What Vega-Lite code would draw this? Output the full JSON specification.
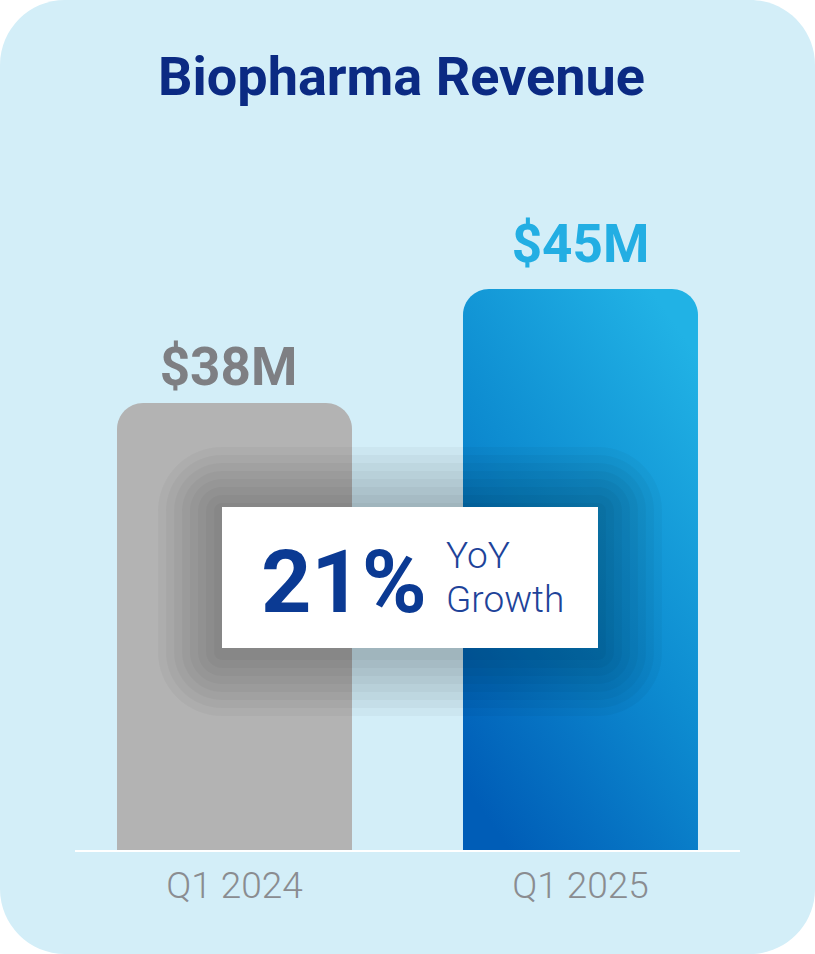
{
  "$schema": "https://vega.github.io/schema/vega-lite/v6.json",
  "width": 815,
  "height": 954,
  "autosize": {"type": "fit", "contains": "padding"},
  "padding": 0,
  "background": "#ffffff",
  "config": {
    "font": "Roboto",
    "view": {"fill": "#d3eef8", "stroke": null, "cornerRadius": 65},
    "axis": {"title": null, "domain": false, "ticks": false, "grid": false},
    "axisY": {"disable": true},
    "axisX": {"labelAngle": 0, "offset": -103, "labelFontSize": 37, "labelFontWeight": 300, "labelColor": "#8a8c90", "labelPadding": 17}
  },
  "title": {"text": "Biopharma Revenue", "fontSize": 54, "fontWeight": 700, "color": "#0b2a83", "offset": -106, "dx": -6, "anchor": "middle", "frame": "group"},
  "datasets": {
    "revenue": [
      {"period": "Q1 2024", "revenue": 38, "label": "$38M"},
      {"period": "Q1 2025", "revenue": 45, "label": "$45M"}
    ],
    "one": [{}]
  },
  "data": {"name": "revenue"},
  "layer": [
    {
      "mark": {"type": "bar", "cornerRadiusTopLeft": 26, "cornerRadiusTopRight": 26},
      "encoding": {
        "x": {"field": "period", "type": "nominal", "sort": null, "scale": {"paddingInner": 0.3208, "paddingOuter": 0.3382}},
        "y": {"field": "revenue", "type": "quantitative", "scale": {"domain": [4.166, 62.746], "zero": false, "nice": false}},
        "y2": {"datum": 10.492},
        "color": {
          "condition": {"test": "datum.period === 'Q1 2025'", "value": {"gradient": "linear", "x1": 0.2, "y1": 1, "x2": 0.8, "y2": 0, "stops": [{"offset": 0, "color": "#005db7"}, {"offset": 0.5, "color": "#0d8bd0"}, {"offset": 1, "color": "#21b2e5"}]}},
          "value": "#b3b3b3"
        }
      }
    },
    {
      "transform": [{"filter": "datum.period === 'Q1 2024'"}],
      "mark": {"type": "text", "fontSize": 53, "fontWeight": 700, "color": "#7e7f83", "dy": -18, "dx": -6, "baseline": "alphabetic"},
      "encoding": {
        "x": {"field": "period", "type": "nominal"},
        "y": {"field": "revenue", "type": "quantitative"},
        "text": {"field": "label"}
      }
    },
    {
      "transform": [{"filter": "datum.period === 'Q1 2025'"}],
      "mark": {"type": "text", "fontSize": 53, "fontWeight": 700, "color": "#23aee3", "dy": -27, "baseline": "alphabetic"},
      "encoding": {
        "x": {"field": "period", "type": "nominal"},
        "y": {"field": "revenue", "type": "quantitative"},
        "text": {"field": "label"}
      }
    },
    {
      "data": {"name": "one"},
      "mark": {"type": "rule", "color": "#ffffff", "strokeWidth": 2},
      "encoding": {
        "x": {"datum": "Q1 2024", "bandPosition": -0.1787},
        "x2": {"datum": "Q1 2025", "bandPosition": 1.1787},
        "y": {"datum": 10.492}
      }
    },
    {"data": {"name": "one"}, "mark": {"type": "rect", "fill": "#000000", "fillOpacity": 0.03, "stroke": null, "cornerRadius": 64},
     "encoding": {"x": {"datum": "Q1 2024", "bandPosition": 0.1745}, "x2": {"datum": "Q1 2025", "bandPosition": 0.8468}, "y": {"datum": 35.299}, "y2": {"datum": 18.781}}},
    {"data": {"name": "one"}, "mark": {"type": "rect", "fill": "#000000", "fillOpacity": 0.03, "stroke": null, "cornerRadius": 56},
     "encoding": {"x": {"datum": "Q1 2024", "bandPosition": 0.2085}, "x2": {"datum": "Q1 2025", "bandPosition": 0.8128}, "y": {"datum": 34.807}, "y2": {"datum": 19.272}}},
    {"data": {"name": "one"}, "mark": {"type": "rect", "fill": "#000000", "fillOpacity": 0.03, "stroke": null, "cornerRadius": 48},
     "encoding": {"x": {"datum": "Q1 2024", "bandPosition": 0.2426}, "x2": {"datum": "Q1 2025", "bandPosition": 0.7787}, "y": {"datum": 34.316}, "y2": {"datum": 19.764}}},
    {"data": {"name": "one"}, "mark": {"type": "rect", "fill": "#000000", "fillOpacity": 0.03, "stroke": null, "cornerRadius": 40},
     "encoding": {"x": {"datum": "Q1 2024", "bandPosition": 0.2766}, "x2": {"datum": "Q1 2025", "bandPosition": 0.7447}, "y": {"datum": 33.825}, "y2": {"datum": 20.255}}},
    {"data": {"name": "one"}, "mark": {"type": "rect", "fill": "#000000", "fillOpacity": 0.03, "stroke": null, "cornerRadius": 32},
     "encoding": {"x": {"datum": "Q1 2024", "bandPosition": 0.3106}, "x2": {"datum": "Q1 2025", "bandPosition": 0.7106}, "y": {"datum": 33.334}, "y2": {"datum": 20.746}}},
    {"data": {"name": "one"}, "mark": {"type": "rect", "fill": "#000000", "fillOpacity": 0.03, "stroke": null, "cornerRadius": 24},
     "encoding": {"x": {"datum": "Q1 2024", "bandPosition": 0.3447}, "x2": {"datum": "Q1 2025", "bandPosition": 0.6766}, "y": {"datum": 32.843}, "y2": {"datum": 21.237}}},
    {"data": {"name": "one"}, "mark": {"type": "rect", "fill": "#000000", "fillOpacity": 0.03, "stroke": null, "cornerRadius": 16},
     "encoding": {"x": {"datum": "Q1 2024", "bandPosition": 0.3787}, "x2": {"datum": "Q1 2025", "bandPosition": 0.6426}, "y": {"datum": 32.351}, "y2": {"datum": 21.728}}},
    {"data": {"name": "one"}, "mark": {"type": "rect", "fill": "#000000", "fillOpacity": 0.03, "stroke": null, "cornerRadius": 8},
     "encoding": {"x": {"datum": "Q1 2024", "bandPosition": 0.4128}, "x2": {"datum": "Q1 2025", "bandPosition": 0.6085}, "y": {"datum": 31.860}, "y2": {"datum": 22.220}}},
    {"data": {"name": "one"}, "mark": {"type": "rect", "fill": "#ffffff", "fillOpacity": 1, "stroke": null},
     "encoding": {"x": {"datum": "Q1 2024", "bandPosition": 0.4468}, "x2": {"datum": "Q1 2025", "bandPosition": 0.5745}, "y": {"datum": 31.614}, "y2": {"datum": 22.957}}},
    {"data": {"name": "one"}, "mark": {"type": "text", "text": "21%", "fontSize": 88, "fontWeight": 700, "color": "#0b3a93", "align": "center", "baseline": "alphabetic"},
     "encoding": {"x": {"datum": "Q1 2024", "bandPosition": 0.9655}, "y": {"datum": 25.185}}},
    {"data": {"name": "one"}, "mark": {"type": "text", "text": ["YoY", "Growth"], "lineHeight": 44, "fontSize": 37, "fontWeight": 300, "color": "#1e4399", "align": "left", "baseline": "alphabetic"},
     "encoding": {"x": {"datum": "Q1 2025", "bandPosition": -0.0723}, "y": {"datum": 27.850}}}
  ]
}
